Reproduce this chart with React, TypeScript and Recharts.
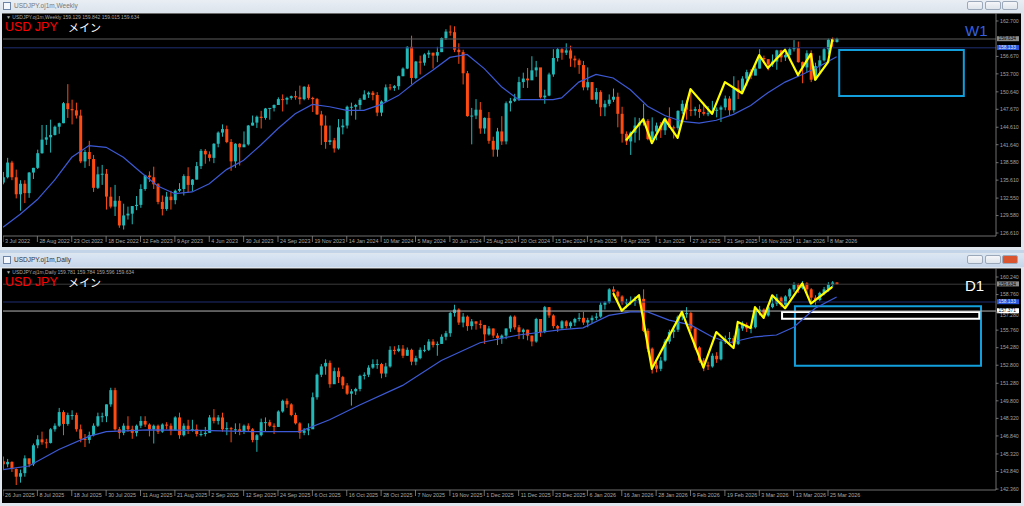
import React from "react"
import { ComposedChart, Bar, Line, XAxis, YAxis, ReferenceLine, ReferenceArea } from "recharts"

document.body.style.margin = "0"

// ---- weekly USDJPY (3 Jul 2022 .. 22 Mar 2026) ----
const wOpen0 = 135.2
const wClose = [
  136.1, 138.6, 136.1, 133.2, 135.0, 133.4, 136.9, 137.7, 140.2, 142.5, 142.9, 143.3, 144.7, 145.3, 148.7, 147.7, 147.5, 146.6, 138.8, 140.4,
  139.2, 134.3, 136.6, 136.7, 132.8, 131.1, 132.1, 127.9, 129.6, 129.9, 131.2, 131.4, 134.1, 136.4, 136.1, 134.9, 131.9, 130.7, 132.8, 132.2,
  133.8, 134.1, 136.3, 134.8, 135.7, 138.0, 140.6, 140.0, 139.4, 141.8, 143.7, 144.3, 142.1, 138.8, 141.8, 141.2, 141.7, 144.9, 145.4, 146.4,
  146.2, 147.8, 147.9, 148.4, 149.4, 149.3, 149.6, 149.9, 149.7, 149.4, 151.5, 149.6, 149.4, 146.8, 144.9, 142.1, 142.4, 141.0, 144.6, 144.9,
  148.1, 148.1, 148.4, 149.3, 150.2, 150.5, 150.1, 147.1, 149.0, 151.4, 151.3, 151.6, 153.3, 154.6, 158.3, 153.0, 155.8, 155.6, 157.0, 157.3,
  156.8, 157.4, 159.8, 160.9, 160.8, 157.8, 157.4, 153.8, 146.5, 146.6, 147.6, 144.4, 146.2, 142.3, 140.8, 143.9, 142.2, 148.7, 149.1, 149.5,
  152.3, 152.9, 152.6, 154.3, 154.8, 149.7, 150.0, 153.6, 156.4, 157.9, 157.3, 157.7, 156.3, 156.0, 155.2, 151.4, 152.3, 149.3, 150.6, 148.0,
  148.6, 149.3, 149.8, 146.9, 143.5, 142.2, 143.7, 144.9, 145.4, 145.7, 142.6, 143.9, 144.9, 144.1, 146.1, 144.6, 144.5, 147.4, 148.6, 147.6,
  147.4, 147.7, 147.2, 146.9, 147.0, 147.4, 147.6, 148.0, 149.5, 147.5, 151.2, 150.6, 152.9, 154.0, 153.4, 154.6, 156.4, 156.2, 155.3, 155.8,
  157.7, 156.5, 156.9, 157.9, 158.1, 155.7, 154.8, 157.2, 152.7, 155.0, 156.0, 157.9, 159.5, 159.129, 159.634,
]
const wHigh = [
  137.0, 139.4, 138.9, 137.4, 135.6, 135.6, 137.0, 137.7, 140.8, 145.0, 145.0, 145.9, 144.9, 145.4, 148.9, 151.95, 149.3, 148.8, 147.6, 140.8,
  142.3, 139.9, 137.9, 138.2, 137.5, 134.4, 134.8, 132.9, 131.6, 131.1, 131.2, 132.9, 134.9, 136.5, 137.1, 137.9, 135.1, 133.0, 133.6, 133.8,
  134.0, 135.1, 136.6, 137.8, 135.8, 138.7, 140.9, 140.9, 140.5, 141.9, 143.9, 145.1, 144.9, 142.6, 141.9, 141.9, 143.9, 145.0, 146.6, 146.6,
  147.4, 147.9, 147.9, 148.5, 149.7, 150.2, 149.8, 150.0, 150.8, 151.7, 151.6, 151.9, 149.8, 149.6, 147.4, 146.6, 144.9, 142.8, 146.0, 146.0,
  148.3, 148.8, 148.6, 149.6, 150.9, 150.7, 150.8, 150.6, 149.2, 151.9, 151.97, 151.8, 153.4, 154.8, 158.4, 160.2, 155.9, 156.8, 157.2, 157.7,
  157.3, 158.3, 159.9, 161.3, 161.95, 161.8, 158.9, 157.8, 154.2, 147.9, 149.4, 148.9, 146.3, 147.2, 143.0, 144.5, 146.5, 149.0, 149.6, 150.3,
  153.2, 153.9, 154.7, 156.7, 155.9, 154.7, 151.0, 153.9, 157.9, 158.1, 158.1, 158.9, 158.5, 156.8, 156.3, 155.9, 154.8, 152.3, 151.3, 150.9,
  149.2, 150.2, 151.2, 150.5, 148.1, 143.9, 143.9, 146.3, 146.2, 148.6, 146.0, 146.3, 145.4, 145.5, 146.3, 148.0, 144.9, 147.5, 149.2, 149.2,
  150.9, 148.1, 148.5, 148.8, 148.2, 149.1, 148.0, 148.3, 150.0, 149.9, 153.3, 152.6, 153.3, 154.4, 154.5, 155.0, 157.9, 156.8, 156.2, 157.0,
  157.8, 157.8, 157.2, 158.2, 159.45, 159.2, 155.8, 157.7, 157.7, 155.6, 156.8, 158.1, 159.7, 159.9, 159.842,
]
const wLow = [
  134.9, 135.9, 135.6, 132.5, 130.4, 131.7, 132.6, 135.8, 137.5, 140.1, 141.6, 140.3, 143.2, 143.5, 145.3, 146.2, 145.1, 146.1, 138.5, 137.7,
  138.0, 133.6, 134.1, 134.8, 130.6, 130.8, 129.5, 127.5, 127.2, 128.9, 128.1, 130.5, 130.9, 133.8, 135.3, 134.1, 131.5, 129.6, 130.4, 130.6,
  131.5, 133.6, 133.0, 133.5, 133.7, 135.7, 137.5, 138.4, 138.8, 138.5, 141.2, 143.0, 141.9, 137.2, 137.7, 138.1, 141.5, 141.5, 144.9, 144.5,
  144.4, 145.9, 145.9, 147.3, 148.4, 147.3, 148.5, 149.3, 149.3, 148.5, 149.2, 149.3, 147.2, 146.7, 141.6, 140.95, 141.6, 140.3, 140.8, 143.4,
  144.4, 146.6, 145.9, 147.6, 149.3, 149.6, 149.2, 146.5, 146.5, 148.9, 150.9, 150.8, 151.0, 153.3, 154.5, 151.9, 152.8, 153.6, 155.1, 156.4,
  154.6, 155.7, 157.4, 159.5, 160.2, 157.4, 155.4, 151.9, 146.4, 141.7, 146.0, 143.5, 143.5, 141.8, 139.6, 139.6, 141.6, 141.7, 147.3, 148.9,
  149.1, 151.3, 151.3, 153.0, 153.2, 149.5, 148.6, 149.9, 153.2, 155.8, 156.1, 156.9, 154.9, 154.8, 153.7, 150.9, 150.9, 149.3, 148.6, 146.5,
  146.5, 148.2, 148.9, 144.6, 142.0, 141.6, 139.9, 142.0, 142.4, 144.9, 142.4, 142.1, 142.4, 142.8, 143.3, 144.5, 142.7, 144.2, 146.9, 145.9,
  146.5, 146.6, 146.2, 146.6, 146.5, 146.8, 146.3, 145.5, 147.5, 146.6, 147.1, 149.4, 150.4, 151.7, 152.8, 153.5, 154.6, 155.6, 154.3, 154.9,
  154.4, 155.7, 155.9, 156.0, 157.5, 155.6, 152.1, 154.0, 152.3, 152.6, 154.0, 155.8, 157.0, 158.3, 159.015,
]
// moving average at selected bars
const wMaIdx = [0, 4, 8, 12, 16, 20, 24, 28, 32, 36, 40, 44, 48, 52, 56, 60, 64, 68, 72, 76, 80, 84, 88, 92, 96, 100, 104, 108, 112, 116, 120, 124, 128, 130, 134, 138, 142, 146, 150, 154, 158, 162, 166, 170, 174, 178, 182, 186, 190, 194]
const wMaVal = [127.6, 129.8, 132.3, 135.6, 139.5, 141.5, 141.2, 139.5, 137.0, 134.6, 133.3, 133.6, 135.0, 137.4, 139.0, 141.6, 144.4, 146.9, 148.5, 148.1, 147.5, 147.5, 148.5, 150.0, 152.3, 154.3, 156.5, 157.0, 154.6, 151.5, 149.3, 149.3, 149.3, 149.6, 152.3, 153.6, 153.0, 151.0, 148.2, 146.6, 145.6, 145.3, 145.8, 146.8, 148.3, 150.5, 152.3, 153.6, 155.0, 156.6]
// hand-drawn yellow zigzag
const wZzIdx = [145, 149, 151, 154, 157, 160, 165, 168, 172, 176, 178, 182, 185, 188, 189, 192, 193]
const wZzVal = [142.4, 146.0, 141.9, 146.0, 142.8, 151.1, 146.9, 152.3, 150.4, 156.9, 154.7, 157.8, 153.5, 157.1, 152.7, 155.7, 159.6]
const wLabels = ["3 Jul 2022", "28 Aug 2022", "23 Oct 2022", "18 Dec 2022", "12 Feb 2023", "9 Apr 2023", "4 Jun 2023", "30 Jul 2023", "24 Sep 2023", "19 Nov 2023", "14 Jan 2024", "10 Mar 2024", "5 May 2024", "30 Jun 2024", "25 Aug 2024", "20 Oct 2024", "15 Dec 2024", "9 Feb 2025", "6 Apr 2025", "1 Jun 2025", "27 Jul 2025", "21 Sep 2025", "16 Nov 2025", "11 Jan 2026", "8 Mar 2026"]
const wPriceTicks = [126.61, 129.58, 132.55, 135.61, 138.58, 141.64, 144.61, 147.67, 150.64, 153.7, 156.67, 162.7]

// ---- daily USDJPY (26 Jun 2025 .. 27 Mar 2026) ----
const dOpen0 = 144.7
const dClose = [
  144.45, 144.65, 144.05, 143.4, 143.7, 144.95, 144.45, 146.05, 146.55, 146.3, 146.25, 147.4, 147.7, 148.85, 147.85, 148.6, 148.6, 147.4, 146.6, 146.5,
  146.9, 147.7, 148.5, 148.5, 149.5, 150.7, 147.4, 147.1, 147.7, 147.4, 147.1, 147.7, 148.1, 147.8, 147.4, 147.7, 147.2, 147.8, 147.7, 147.3,
  148.4, 146.9, 147.7, 147.4, 147.4, 147.0, 147.0, 147.1, 148.4, 148.1, 148.4, 147.4, 147.5, 147.4, 147.4, 147.2, 147.7, 147.4, 146.5, 146.9,
  148.0, 148.0, 147.7, 147.6, 148.9, 149.8, 149.5, 148.6, 147.9, 147.1, 147.3, 147.4, 150.1, 152.0, 152.7, 153.0, 151.2, 152.3, 151.8, 151.1,
  150.4, 150.6, 150.8, 151.9, 152.0, 152.6, 152.9, 152.9, 152.1, 152.7, 154.1, 154.0, 154.2, 153.6, 154.1, 153.1, 153.4, 154.1, 154.1, 154.8,
  154.5, 154.6, 155.2, 155.5, 157.2, 157.5, 156.4, 156.9, 156.1, 156.5, 156.3, 156.2, 155.4, 155.9, 155.3, 155.1, 155.3, 155.9, 156.9, 156.0,
  155.6, 155.8, 155.3, 154.8, 156.7, 155.6, 157.7, 157.0, 156.1, 155.9, 156.5, 156.1, 156.4, 156.7, 156.8, 156.4, 156.6, 156.8, 156.9, 157.9,
  158.1, 159.2, 159.0, 158.6, 158.1, 158.1, 158.2, 158.3, 158.4, 155.7, 154.2, 152.8, 152.5, 153.2, 154.8, 155.6, 155.8, 156.9, 157.1, 157.2,
  155.9, 154.3, 153.2, 152.8, 152.7, 153.6, 153.3, 154.8, 155.0, 155.1, 154.6, 155.9, 156.2, 155.9, 156.0, 157.4, 157.5, 157.0, 157.7, 158.0,
  158.5, 157.9, 158.6, 159.2, 159.6, 159.3, 159.7, 159.2, 158.5, 158.3, 158.9, 159.2, 159.6, 159.781, 159.634,
]
const dHigh = [
  145.1, 144.9, 144.7, 144.1, 144.0, 145.2, 144.9, 146.2, 146.9, 147.2, 146.6, 147.5, 147.9, 149.2, 149.0, 148.8, 149.0, 148.8, 147.8, 147.0,
  147.2, 147.9, 148.8, 148.8, 149.5, 150.9, 150.9, 147.6, 147.9, 148.5, 147.7, 147.8, 148.5, 148.5, 147.9, 147.8, 147.8, 147.9, 148.0, 147.9,
  148.5, 148.8, 147.9, 148.2, 148.2, 147.8, 147.3, 147.6, 148.6, 149.1, 148.6, 148.8, 148.0, 147.6, 147.9, 147.9, 147.8, 147.9, 147.5, 147.0,
  148.3, 148.4, 148.2, 147.9, 149.0, 149.9, 150.0, 149.6, 148.8, 148.0, 147.5, 147.9, 150.5, 152.1, 152.9, 153.3, 153.2, 152.6, 152.6, 151.9,
  151.3, 150.8, 150.9, 152.0, 152.2, 152.8, 153.3, 153.3, 153.0, 153.0, 154.4, 154.4, 154.5, 154.5, 154.3, 154.2, 153.6, 154.3, 154.5, 155.0,
  155.0, 154.8, 155.4, 155.7, 157.3, 157.9, 157.6, 157.2, 157.0, 156.7, 156.5, 156.6, 156.2, 156.1, 155.9, 155.5, 155.4, 155.9, 157.0, 157.0,
  156.2, 155.9, 155.8, 155.3, 156.8, 156.6, 157.8, 157.7, 157.1, 156.2, 156.6, 156.6, 156.5, 156.8, 157.2, 157.3, 156.8, 157.0, 157.2, 158.1,
  158.2, 159.3, 159.45, 159.1, 158.7, 158.4, 158.6, 158.6, 158.8, 159.2, 155.9, 154.3, 153.1, 153.5, 155.0, 155.8, 156.0, 157.0, 157.4, 157.7,
  157.3, 156.0, 154.4, 153.4, 153.1, 153.8, 153.9, 154.9, 155.3, 155.6, 155.3, 156.1, 156.5, 156.4, 156.2, 157.7, 157.8, 157.6, 157.9, 158.5,
  158.8, 158.6, 158.7, 159.3, 159.8, 159.7, 159.9, 159.8, 159.3, 158.7, 159.0, 159.4, 159.8, 159.9, 159.784,
]
const dLow = [
  144.0, 144.2, 143.8, 142.7, 142.9, 143.4, 144.2, 144.3, 145.8, 146.1, 145.8, 146.2, 147.2, 147.6, 146.9, 147.7, 148.2, 147.2, 146.3, 145.9,
  146.2, 146.8, 147.6, 148.0, 148.0, 149.3, 147.3, 146.6, 146.9, 147.2, 146.6, 146.8, 147.5, 147.6, 146.8, 146.2, 147.0, 147.1, 147.4, 146.9,
  147.3, 146.6, 146.8, 147.0, 147.2, 146.8, 146.8, 146.8, 147.1, 147.9, 147.8, 147.2, 146.9, 146.3, 147.0, 146.9, 147.0, 147.2, 146.3, 145.5,
  146.8, 147.2, 147.6, 147.0, 147.6, 148.8, 149.2, 148.5, 147.8, 146.6, 146.9, 146.9, 149.5, 149.9, 151.8, 152.0, 150.9, 151.5, 151.3, 150.8,
  150.3, 149.4, 150.3, 150.6, 151.6, 151.8, 152.5, 152.5, 151.7, 151.8, 152.6, 153.7, 153.9, 153.4, 153.6, 152.8, 152.8, 153.3, 153.9, 154.0,
  154.3, 153.6, 154.6, 154.9, 155.2, 156.9, 156.2, 156.0, 155.7, 155.8, 155.8, 155.9, 154.6, 155.3, 155.1, 154.5, 154.6, 155.0, 155.6, 155.8,
  155.0, 155.0, 154.9, 154.4, 154.7, 155.2, 155.5, 156.8, 155.9, 155.6, 155.9, 155.9, 155.9, 156.1, 156.5, 156.2, 156.0, 156.3, 156.6, 156.8,
  157.5, 158.0, 158.6, 158.1, 157.9, 157.6, 157.9, 157.8, 158.0, 155.6, 153.9, 152.1, 152.2, 152.3, 153.1, 154.6, 155.1, 155.6, 156.6, 156.8,
  155.7, 154.1, 153.0, 152.3, 152.4, 152.6, 153.0, 153.2, 154.6, 154.7, 154.2, 154.5, 155.7, 155.6, 155.5, 155.9, 157.0, 156.7, 156.9, 157.6,
  157.8, 157.7, 157.7, 158.4, 159.0, 158.9, 159.2, 158.9, 158.0, 157.9, 158.2, 158.7, 159.0, 159.4, 159.596,
]
const dMaIdx = [0, 6, 13, 20, 24, 34, 46, 58, 69, 76, 83, 93, 102, 111, 120, 130, 135, 141, 146, 150, 155, 160, 165, 169, 175, 180, 184, 189, 194]
const dMaVal = [144.0, 144.3, 145.7, 146.8, 147.2, 147.35, 147.3, 147.2, 147.2, 148.2, 149.45, 151.1, 153.2, 154.7, 155.35, 155.8, 155.95, 157.0, 157.3, 157.3, 156.6, 156.2, 155.2, 154.7, 155.2, 155.35, 156.0, 157.6, 158.55]
const dZzIdx = [142, 144, 148, 151, 158, 163, 166, 170, 171, 174, 175, 177, 179, 182, 186, 188, 193]
const dZzVal = [158.9, 157.4, 158.7, 152.5, 157.3, 152.6, 155.6, 154.25, 156.45, 155.95, 157.7, 156.8, 158.7, 157.6, 159.7, 158.0, 159.4]
const dLabels = ["26 Jun 2025", "8 Jul 2025", "18 Jul 2025", "30 Jul 2025", "11 Aug 2025", "21 Aug 2025", "2 Sep 2025", "12 Sep 2025", "24 Sep 2025", "6 Oct 2025", "16 Oct 2025", "28 Oct 2025", "7 Nov 2025", "19 Nov 2025", "1 Dec 2025", "11 Dec 2025", "23 Dec 2025", "6 Jan 2026", "16 Jan 2026", "28 Jan 2026", "9 Feb 2026", "19 Feb 2026", "3 Mar 2026", "13 Mar 2026", "25 Mar 2026"]
const dPriceTicks = [142.36, 143.84, 145.32, 146.84, 148.32, 149.8, 151.28, 152.8, 154.28, 155.76, 157.28, 158.76, 160.24]

const UP = "#22b8b8"
const DOWN = "#ff4a12"
const AXIS = "#8a8a8a"
const FONT = "'Liberation Sans', Arial, sans-serif"

function buildRows(open0: number, close: number[], high: number[], low: number[]) {
  return close.map((c, i) => {
    const o = i === 0 ? open0 : close[i - 1]
    return { i, o, h: high[i], l: low[i], c, range: [low[i], high[i]] }
  })
}
const pts = (idx: number[], val: number[]) => idx.map((i, k) => ({ i, v: val[k] }))

const Candle = (props: any) => {
  const { x, y, width, height, payload } = props
  if (x == null || !payload) return null
  const { o, h, l, c } = payload
  const top = Math.min(y, y + height)
  const bot = Math.max(y, y + height)
  const span = h - l || 1
  const py = (p: number) => top + ((h - p) / span) * (bot - top)
  const col = c >= o ? UP : DOWN
  const cx = x + width / 2
  const bTop = py(Math.max(o, c))
  const bBot = py(Math.min(o, c))
  return (
    <g>
      <line x1={cx} x2={cx} y1={top} y2={bot} stroke={col} strokeWidth={1} />
      <rect x={cx - 1.5} y={bTop} width={3} height={Math.max(1, bBot - bTop)} fill={col} />
    </g>
  )
}

const DateTick = ({ x, y, payload, labels }: any) => {
  const k = Math.round(payload.value / 8)
  return (
    <g>
      <line x1={x} x2={x} y1={y} y2={y + 6} stroke={AXIS} strokeWidth={0.8} />
      <text x={x + 2} y={y + 6.5} fontSize={5.4} fill="#a8a8a8" fontFamily={FONT}>{labels[k]}</text>
    </g>
  )
}

// the tick sitting under a price tag is pushed just below it, as in MT4
const PriceTick = ({ x, y, payload, under }: any) => {
  const dy = under && Math.abs(payload.value - under) < 0.2 ? 3.2 : 0
  return (
    <g>
      <line x1={x} x2={x + 2.5} y1={y} y2={y} stroke={AXIS} strokeWidth={0.8} />
      <text x={x + 4} y={y + 1.8 + dy} fontSize={5.2} fill="#a0a0a0" fontFamily={FONT}>{payload.value.toFixed(3)}</text>
    </g>
  )
}

const Tag = ({ viewBox, text, bg, fg }: any) => {
  if (!viewBox) return null
  const x = viewBox.x + viewBox.width + 1
  const y = viewBox.y
  return (
    <g>
      <rect x={x} y={y - 2.8} width={22} height={5} fill={bg} />
      <text x={x + 1.5} y={y + 1.4} fontSize={4.8} fill={fg} fontFamily={FONT}>{text}</text>
    </g>
  )
}

type PanelProps = {
  rows: any[]
  ma: { i: number; v: number }[]
  zz: { i: number; v: number }[]
  labels: string[]
  ticks: number[]
  domain: [number, number]
  axisH: number
  under?: number
  lines: { y: number; color: string; tag: string; bg: string; fg: string }[]
  boxes: { x1: number; x2: number; y1: number; y2: number; color: string }[]
}

function Panel({ rows, ma, zz, labels, ticks, domain, axisH, under, lines, boxes }: PanelProps) {
  const xTicks = labels.map((_, k) => k * 8)
  return (
    <ComposedChart width={1018} height={233} data={rows} margin={{ top: 0, right: 0, bottom: 0, left: 0 }}>
      <XAxis
        dataKey="i"
        type="number"
        domain={[0, 231.09]}
        allowDataOverflow
        ticks={xTicks}
        interval={0}
        height={axisH}
        tickSize={0}
        tickMargin={0}
        axisLine={{ stroke: AXIS, strokeWidth: 0.8 }}
        tickLine={false}
        tick={(p: any) => <DateTick {...p} labels={labels} />}
      />
      <YAxis
        orientation="right"
        type="number"
        domain={domain}
        allowDataOverflow
        ticks={ticks}
        interval={0}
        width={25}
        tickSize={0}
        tickMargin={0}
        axisLine={{ stroke: AXIS, strokeWidth: 0.8 }}
        tickLine={false}
        tick={(p: any) => <PriceTick {...p} under={under} />}
      />
      {lines.map((ln, k) => (
        <ReferenceLine
          key={k}
          y={ln.y}
          stroke={ln.color}
          strokeWidth={1}
          label={(p: any) => <Tag viewBox={p.viewBox} text={ln.tag} bg={ln.bg} fg={ln.fg} />}
        />
      ))}
      <Bar dataKey="range" barSize={3} shape={(p: any) => <Candle {...p} />} isAnimationActive={false} />
      <Line data={ma} dataKey="v" type="linear" stroke="#3c5ad6" strokeWidth={1.2} dot={false} isAnimationActive={false} />
      <Line data={zz} dataKey="v" type="linear" stroke="#ffff00" strokeWidth={2.2} strokeLinejoin="round" dot={false} isAnimationActive={false} />
      {boxes.map((b, k) => (
        <ReferenceArea key={k} x1={b.x1} x2={b.x2} y1={b.y1} y2={b.y2} fill="none" stroke={b.color} strokeWidth={2} strokeOpacity={1} ifOverflow="visible" />
      ))}
    </ComposedChart>
  )
}

const TitleBar = ({ title, top, active }: { title: string; top: number; active: boolean }) => (
  <div style={{ position: "absolute", left: 0, top, width: 1024, height: 13, background: active ? "linear-gradient(#dbe6f3,#c6d6ea)" : "linear-gradient(#e9eef4,#dbe3ec)" }}>
    <div style={{ position: "absolute", left: 3, top: 2, width: 8, height: 8, border: "1px solid #6b84a8", background: "#f4f8fc", boxSizing: "border-box" }} />
    <div style={{ position: "absolute", left: 14, top: 2, fontSize: 6.5, fontFamily: FONT, color: active ? "#333" : "#777", whiteSpace: "nowrap" }}>{title}</div>
    {[967, 985, 1002].map((x, k) => (
      <div key={k} style={{ position: "absolute", left: x, top: 1, width: 16, height: 9, borderRadius: 2, border: "1px solid #9aa8ba", boxSizing: "border-box", background: active && k === 2 ? "#d9542f" : "linear-gradient(#f4f6f9,#dfe5ec)" }} />
    ))}
  </div>
)

const Overlay = ({ top, info, tf, tfColor }: { top: number; info: string; tf: string; tfColor: string }) => (
  <>
    <div style={{ position: "absolute", left: 6, top: top + 1, fontSize: 5, lineHeight: "6px", fontFamily: FONT, color: "#a8a8a8", whiteSpace: "nowrap" }}>{info}</div>
    <div style={{ position: "absolute", left: 5, top: top + 8, fontSize: 12.5, lineHeight: "13px", fontFamily: FONT, color: "#ff0000", whiteSpace: "nowrap" }}>USD JPY</div>
    <div style={{ position: "absolute", left: 68, top: top + 8, fontSize: 11, lineHeight: "13px", fontFamily: "'Noto Sans CJK JP', sans-serif", color: "#ffffff", whiteSpace: "nowrap" }}>メイン</div>
    <div style={{ position: "absolute", left: 965, top: top + 10, fontSize: 15, lineHeight: "16px", fontFamily: FONT, color: tfColor, whiteSpace: "nowrap" }}>{tf}</div>
  </>
)

export default function App() {
  const wRows = buildRows(wOpen0, wClose, wHigh, wLow)
  const dRows = buildRows(dOpen0, dClose, dHigh, dLow)
  return (
    <div style={{ position: "relative", width: 1024, height: 506, background: "#c3d4e8", overflow: "hidden" }}>
      {/* weekly window */}
      <div style={{ position: "absolute", left: 0, top: 0, width: 1024, height: 250, background: "#dfe6ee" }} />
      <TitleBar title="USDJPY.oj1m,Weekly" top={0} active={false} />
      <div style={{ position: "absolute", left: 2, top: 13, width: 1019, height: 234, background: "#000", borderTop: "1px solid #6c6c6c", boxSizing: "border-box" }} />
      <div style={{ position: "absolute", left: 3, top: 13 }}>
        <Panel
          rows={wRows}
          ma={pts(wMaIdx, wMaVal)}
          zz={pts(wZzIdx, wZzVal)}
          labels={wLabels}
          ticks={wPriceTicks}
          domain={[126.1, 164.06]}
          axisH={10}
          lines={[
            { y: 159.634, color: "#5c5c5c", tag: "159.634", bg: "#8c8c8c", fg: "#000" },
            { y: 158.133, color: "#1f2f73", tag: "158.133", bg: "#2a55d6", fg: "#dfe6ff" },
          ]}
          boxes={[{ x1: 194.6, x2: 223.6, y1: 149.95, y2: 157.75, color: "#129fdc" }]}
        />
      </div>
      <Overlay top={13} info="▼ USDJPY.oj1m,Weekly  159.129 159.842 159.015 159.634" tf="W1" tfColor="#3561e0" />

      {/* daily window */}
      <div style={{ position: "absolute", left: 0, top: 253, width: 1024, height: 253, background: "#dfe6ee" }} />
      <TitleBar title="USDJPY.oj1m,Daily" top={254} active={true} />
      <div style={{ position: "absolute", left: 2, top: 268, width: 1019, height: 235, background: "#000", borderTop: "1px solid #6c6c6c", boxSizing: "border-box" }} />
      <div style={{ position: "absolute", left: 3, top: 268 }}>
        <Panel
          rows={dRows}
          ma={pts(dMaIdx, dMaVal)}
          zz={pts(dZzIdx, dZzVal)}
          labels={dLabels}
          ticks={dPriceTicks}
          domain={[142.28, 161.0]}
          axisH={11}
          under={157.371}
          lines={[
            { y: 159.634, color: "#3c3c3c", tag: "159.634", bg: "#8c8c8c", fg: "#000" },
            { y: 158.133, color: "#1f2f73", tag: "158.133", bg: "#2a55d6", fg: "#dfe6ff" },
            { y: 157.371, color: "#b4b4b4", tag: "157.371", bg: "#ffffff", fg: "#000" },
          ]}
          boxes={[
            { x1: 184.3, x2: 227.6, y1: 152.75, y2: 157.78, color: "#129fdc" },
            { x1: 181.3, x2: 227.2, y1: 156.72, y2: 157.3, color: "#ffffff" },
          ]}
        />
      </div>
      <Overlay top={268} info="▼ USDJPY.oj1m,Daily  159.781 159.784 159.596 159.634" tf="D1" tfColor="#ffffff" />
    </div>
  )
}
